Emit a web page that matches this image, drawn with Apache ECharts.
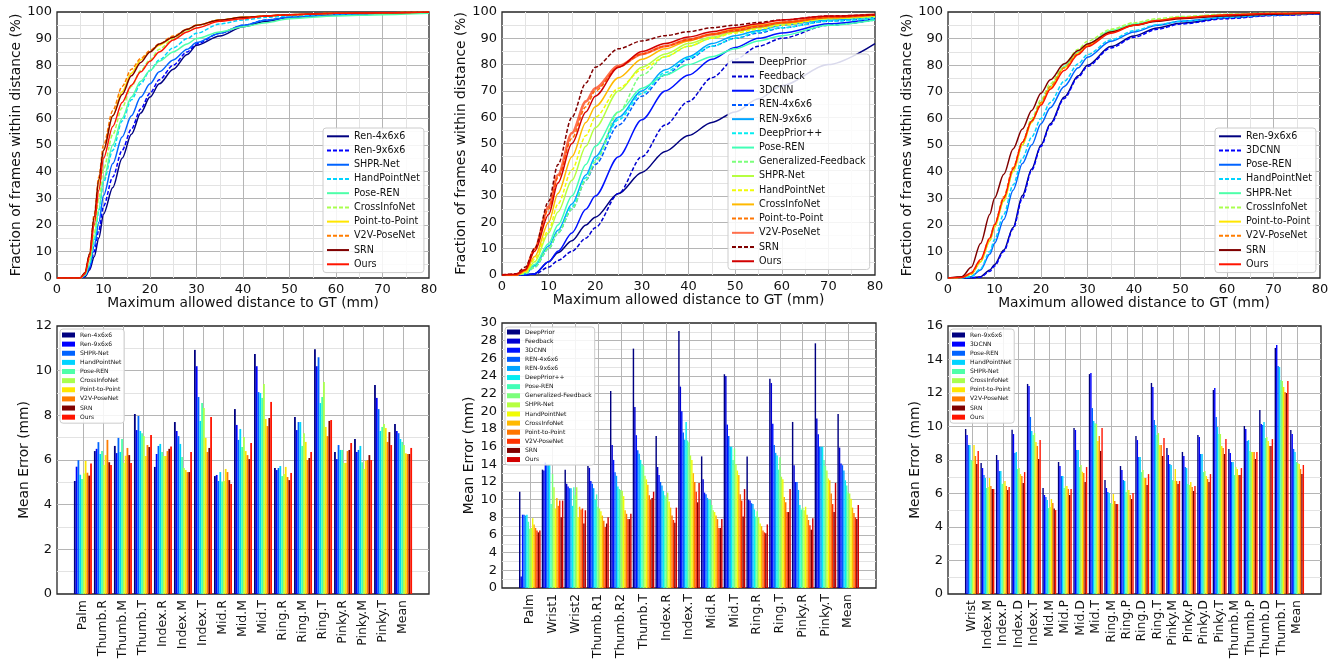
<!DOCTYPE html>
<html><head><meta charset="utf-8">
<script src="https://cdn.jsdelivr.net/npm/echarts@6/dist/echarts.min.js"></script>
<style>html,body{margin:0;padding:0;background:#fff;width:1339px;height:662px;overflow:hidden;position:relative}</style>
</head><body>
<script>
// ================= DATA =================
// --- top-left: cumulative curves ---
const tlNames = ['Ren-4x6x6','Ren-9x6x6','SHPR-Net','HandPointNet','Pose-REN','CrossInfoNet','Point-to-Point','V2V-PoseNet','SRN','Ours'];
const tlX = [0,5,6,7,8,9,10,12,14,16,18,20,22,25,28,30,35,40,45,50,60,70,80];
const tlCurves = [
  [0,0,0.5,3,8,15,24,34,45,54,62,68,73,78.5,84,87.5,91,94.5,96.5,98,99,99.5,100],
  [0,0,0.5,3.5,10,18,27,38,48,56,63.5,69.5,74.5,80,85,88,92,95,97,98,99,99.5,100],
  [0,0,1,4,12,21,31,43,53,61,68,73,77.5,82,86,88.5,92,95,97,98,99,99.5,100],
  [0,0,1,5,14,25,36,48,59,67,73,78,82,86.5,90,92,95.5,97,98,98.5,99.3,99.6,100],
  [0,0,1,5.5,15,26,37,50,60,68,74,78,81.5,85,88,90,92.5,94.5,96,97.5,98.5,99,99.5],
  [0,0,1.5,7,17,30,41,54,64,72,78,82,86,90,93,95,97,98,98.5,99,99.5,99.7,100],
  [0,0,2,8,22,36,48,61,70,77,82,85,87.5,90.5,93.5,95,97,98,98.5,99,99.5,99.7,100],
  [0,0,2,9,24,38,50,63,72,78.5,82.5,85.5,88,91,93.5,95,97,98,98.5,99,99.5,99.7,100],
  [0,0,2,9,23,37,48,61,69,76,81,85,88,90.5,93.5,95,97,98,98.5,99,99.5,99.7,100],
  [0,0,1.5,8,20,33,45,57,66,72.5,77.5,81.5,85,89.5,92.5,94,96.5,97.5,98.5,99,99.5,99.7,100]
];
// --- top-middle ---
const tmNames = ['DeepPrior','Feedback','3DCNN','REN-4x6x6','REN-9x6x6','DeepPrior++','Pose-REN','Generalized-Feedback','SHPR-Net','HandPointNet','CrossInfoNet','Point-to-Point','V2V-PoseNet','SRN','Ours'];
const tmX = [0,3,5,7,10,12,15,18,20,25,30,35,40,45,50,55,60,70,80];
const tmCurves = [
  [0,0,0,0.5,5,8.5,13,19,22,31,39,47,53,58,62,67,72,80,88],
  [0,0,0,0.3,3,5.5,9,14,18,31,45,57,66,75,82,87,90,95,97],
  [0,0,0,0.5,5,9,16,25,30,45,59,70,76,82,86.5,90,92,95.5,97.5],
  [0,0,0.5,3,10,16,25,36,42,57,68,76,82,87,90,92,94,96.5,98],
  [0,0,0.5,3.5,11,17,27,38,45,60,70,78,83,88,91,93,95,97,98],
  [0,0,0.5,3,10,16,26,37,44,59,69,77,82.5,87,90,92.5,94,96.5,97.5],
  [0,0,1,4,12,19,30,42,49,62,71,76,80,83,86,89,91,95,97],
  [0,0,0.5,3,10,16,25,36,43,62,76,83,87,90,92.5,94,95.5,97.5,98],
  [0,0,1,5,16,24,36,49,56,70,79,84,88,90.5,92.5,94,95.5,97.5,98.5],
  [0,0,1,6,17,27,40,53,60,71,78,83,87,90,92,93.5,95,97.5,98.5],
  [0,0,1.5,7,20,31,45,58,64,75,82,86,89,91.5,93.5,95,96,98,99],
  [0,0,2,10,25,37,52,64,70,79,84,87,89.5,91.5,93,94.5,96,98,99],
  [0,0,2,10,26,38,54,66,71,79.5,84,87,89.5,91.5,93,94.5,96,98,99],
  [0,0.5,3,10,28,42,60,73,79,86,89,91,92.5,94,95,96,97,98.5,99],
  [0,0.3,2,9,23,35,50,62,68,79,85,88,90.5,92.5,94,95.5,97,98.5,99]
];
// --- top-right ---
const trNames = ['Ren-9x6x6','3DCNN','Pose-REN','HandPointNet','SHPR-Net','CrossInfoNet','Point-to-Point','V2V-PoseNet','SRN','Ours'];
const trX = [0,3,5,7,9,10,12,14,16,18,20,22,25,28,30,35,40,45,50,60,70,80];
const trCurves = [
  [0,0,0,0.5,3,5,10.5,19,31,41,50,58,68,76,80,87,91,94,95.8,97.8,98.8,99.3],
  [0,0,0,0.3,2.5,4.5,10,18.5,30,40.5,49.5,57.5,67.5,75.5,79.5,86.5,90.5,93.5,95.5,97.5,98.7,99.3],
  [0,0,0.5,3,9,13,22,33,43,50,58,64,72,79,83,89,92.5,95,96.5,98,99,99.5],
  [0,0,0.5,3.5,10,14.5,24,35,45,53,60,66,74,80.5,84,89.5,93,95.2,96.5,98,99,99.5],
  [0,0.2,1.5,6,14,19,29,40,50,59,66,72,79.5,85,88,93,95.5,97,98,99,99.5,99.8],
  [0,0.2,1.5,6.5,15,20,30,41,51,60,67,73,80.5,86,89,93.5,96,97.5,98.3,99.2,99.6,99.8],
  [0,0.2,1.5,6,14,19,29,40,50,58.5,65.5,71.5,79,84.5,87.5,92.5,95,96.8,97.8,98.8,99.3,99.6],
  [0,0.2,1.5,6.5,15,20,30.5,41.5,51,59,66,72,79,84.5,87.5,92.5,95,96.8,97.8,98.8,99.3,99.6],
  [0,0.5,4,13,24,30,39,48.5,56,63,69.5,74.5,80.5,85.5,88,92.5,95,96.5,97.5,98.5,99.2,99.5],
  [0,0.2,2,7,15,20,30,41,51,59,65,71,78,84,87,92,95,96.8,97.8,99,99.5,99.8]
];
// --- bottom-left: mean error per joint (rows = joints, columns = methods in tlNames order) ---
const blCats = ['Palm','Thumb.R','Thumb.M','Thumb.T','Index.R','Index.M','Index.T','Mid.R','Mid.M','Mid.T','Ring.R','Ring.M','Ring.T','Pinky.R','Pinky.M','Pinky.T','Mean'];
const blErr = [
  [5.06,5.7,5.99,5.34,5.15,5.4,5.96,5.43,5.3,5.84],
  [6.4,6.5,6.8,6.27,6.4,5.78,6.22,6.9,5.9,5.78],
  [6.63,6.31,6.99,6.36,6.94,5.87,6.19,6.54,6.22,5.87],
  [8.06,7.34,7.97,7.3,7.2,7.07,6.18,6.67,6.58,7.12],
  [5.69,6.27,6.63,6.72,6.36,6.18,6.18,6.4,6.5,6.6],
  [7.7,7.3,7.07,6.72,6.13,5.64,5.55,5.46,5.46,6.36],
  [10.93,10.2,8.82,7.75,8.55,8.33,6.99,6.36,6.54,7.93],
  [5.28,5.33,5.06,5.46,5.04,5.06,5.6,5.46,5.1,4.93],
  [8.28,7.57,6.9,7.39,6.58,7.03,6.4,6.22,6.04,6.76],
  [10.75,10.2,9.04,9.0,8.78,9.4,7.84,7.52,7.88,8.6],
  [5.64,5.55,5.64,5.73,5.28,5.37,5.69,5.24,5.1,5.42],
  [7.93,7.34,7.7,7.7,6.63,7.2,6.81,6.0,6.09,6.36],
  [10.96,10.2,10.6,8.55,8.82,9.49,7.48,7.07,7.75,7.79],
  [6.36,6.04,6.67,6.45,6.45,5.87,5.87,6.4,6.45,6.76],
  [6.94,6.36,6.45,6.63,5.9,5.6,5.96,6.0,6.22,6.0],
  [9.36,8.78,8.28,7.3,7.48,7.61,7.43,6.81,7.25,6.67],
  [7.61,7.3,7.2,6.94,6.81,6.67,6.3,6.27,6.27,6.54]
];
// --- bottom-middle (methods in tmNames order) ---
const bmCats = ['Palm','Wrist1','Wrist2','Thumb.R1','Thumb.R2','Thumb.T','Index.R','Index.T','Mid.R','Mid.T','Ring.R','Ring.T','Pinky.R','Pinky.T','Mean'];
const bmErr = [
  [10.9,1.3,8.3,8.3,8.2,8.3,7.5,6.7,6.8,7.9,7.2,6.8,6.5,6.3,6.5],
  [13.4,13.3,14.2,14.0,14.0,14.0,9.5,12.9,11.4,9.0,10.2,9.3,9.9,8.0,9.9],
  [13.4,11.8,11.5,11.3,11.3,9.3,11.4,10.5,11.4,8.0,9.2,8.9,9.0,7.3,8.8],
  [13.8,13.6,12.1,11.8,11.3,10.0,10.6,9.2,9.0,8.7,8.2,7.6,6.9,7.3,8.0],
  [22.3,16.2,14.5,13.1,12.7,11.5,11.2,11.1,11.0,10.4,8.8,8.4,7.8,7.8,8.4],
  [27.1,20.5,17.3,15.6,15.2,14.5,14.0,13.8,12.7,12.3,11.7,10.5,10.0,10.2,10.9],
  [17.2,13.7,12.8,12.0,11.6,11.0,10.5,10.3,10.8,9.8,9.1,8.2,7.7,7.4,9.1],
  [29.1,22.8,20.0,17.6,16.8,18.8,16.7,16.5,15.0,14.5,13.0,12.0,10.9,9.7,11.9],
  [14.9,12.3,10.8,10.6,10.2,10.0,10.0,9.4,8.8,8.6,8.2,7.8,6.8,6.8,7.8],
  [24.2,24.0,18.5,17.2,16.0,16.0,14.5,15.8,14.0,13.3,12.8,10.6,9.9,8.1,11.2],
  [14.9,10.0,9.9,9.6,9.5,8.9,8.1,8.7,8.0,7.3,7.0,6.5,6.3,6.2,7.2],
  [23.7,23.2,18.6,16.2,15.3,15.0,13.4,14.8,12.6,12.3,10.3,9.7,8.6,8.6,11.2],
  [18.8,13.9,12.0,12.0,11.1,9.4,8.9,9.1,8.8,9.2,8.3,7.7,7.1,6.6,7.9],
  [27.7,19.2,17.4,16.0,16.0,16.0,14.5,13.8,13.3,12.4,12.2,10.7,9.5,8.6,11.9],
  [19.7,15.9,14.1,13.9,13.3,12.2,11.6,10.8,10.7,10.1,9.1,8.5,8.0,7.8,9.4]
];
// --- bottom-right (methods in trNames order) ---
const brCats = ['Wrist','Index.M','Index.P','Index.D','Index.T','Mid.M','Mid.P','Mid.D','Mid.T','Ring.M','Ring.P','Ring.D','Ring.T','Pinky.M','Pinky.P','Pinky.D','Pinky.T','Thumb.M','Thumb.P','Thumb.D','Thumb.T','Mean'];
const brErr = [
  [9.85,9.5,8.9,8.9,8.0,7.94,8.9,8.24,7.76,8.54],
  [7.82,7.52,7.1,6.93,6.33,6.39,6.93,6.45,6.27,6.27],
  [8.3,8.0,7.34,7.34,6.57,6.63,6.75,6.45,6.21,6.39],
  [9.8,9.55,8.42,8.48,7.46,7.52,7.16,7.04,6.63,7.28],
  [12.54,12.42,10.57,9.73,9.49,9.61,9.07,8.84,8.06,9.19],
  [6.33,5.91,5.79,5.61,5.13,5.2,5.67,5.43,5.11,5.01],
  [7.88,7.64,7.04,7.04,6.33,6.45,6.45,6.27,5.91,6.27],
  [9.91,9.79,8.6,8.6,7.58,7.7,7.3,7.22,6.69,7.58],
  [13.13,13.19,11.1,10.33,10.2,10.15,9.13,9.43,8.54,9.91],
  [6.8,6.33,6.09,6.03,5.43,5.37,5.97,5.55,5.37,5.37],
  [7.64,7.4,6.8,6.75,6.09,6.21,6.21,5.91,5.67,6.03],
  [9.43,9.19,8.18,8.18,7.28,7.4,6.93,6.93,6.51,7.16],
  [12.6,12.36,10.39,10.09,9.49,9.61,8.9,8.9,8.24,9.31],
  [8.72,8.3,7.76,7.7,6.8,6.75,7.46,6.75,6.57,6.75],
  [8.48,8.24,7.58,7.52,6.57,6.51,6.69,6.39,6.15,6.45],
  [9.49,9.37,8.36,8.36,7.28,7.34,7.04,6.87,6.69,7.16],
  [12.18,12.3,10.57,9.97,9.55,9.55,8.84,8.72,8.36,9.25],
  [8.66,8.42,7.88,7.88,7.1,7.58,7.46,7.1,7.1,7.52],
  [10.03,9.85,9.13,9.19,8.54,8.48,8.48,8.48,8.06,8.48],
  [10.99,10.15,10.09,10.27,9.31,9.37,9.13,8.84,8.84,9.25],
  [14.69,14.87,13.61,13.55,12.78,12.72,12.36,12.06,12.0,12.72],
  [9.79,9.55,8.66,8.48,7.88,7.82,7.76,7.46,7.16,7.7]
];

// ================= STYLE =================
const F = 'DejaVu Sans';
const TXT = '#111';
function jet(t){
  function f(p){for(let i=0;i<p.length-1;i++){if(t<=p[i+1][0]){return p[i][1]+(p[i+1][1]-p[i][1])*(t-p[i][0])/(p[i+1][0]-p[i][0]);}}return p[p.length-1][1];}
  const r=f([[0,0],[0.35,0],[0.66,1],[0.89,1],[1,0.5]]);
  const g=f([[0,0],[0.125,0],[0.375,1],[0.64,1],[0.91,0],[1,0]]);
  const b=f([[0,0.5],[0.11,1],[0.34,1],[0.65,0],[1,0]]);
  return 'rgb('+Math.round(r*255)+','+Math.round(g*255)+','+Math.round(b*255)+')';
}
function palette(k){ // last two swapped: SRN darkest red, Ours next
  const c=[]; for(let i=0;i<k;i++) c.push(jet(i/(k-1)));
  const t=c[k-1]; c[k-1]=c[k-2]; c[k-2]=t; return c;
}
const pal10 = palette(10), pal15 = palette(15);
const dash10 = [0,1,0,1,0,1,0,1,0,0];
const dash15 = [0,1,0,1,0,1,0,1,0,1,0,1,0,1,0];

function legendBox(left, top, itemW, itemH, lineH, gap, fs, pad, icon){
  const o = {orient:'vertical', left:left, top:top, itemWidth:itemW, itemHeight:itemH, itemGap:gap,
    padding:pad, backgroundColor:'rgba(255,255,255,0.85)', borderColor:'#cccccc', borderWidth:1, borderRadius:3,
    textStyle:{fontFamily:F, fontSize:fs, color:TXT, lineHeight:lineH}, selectedMode:false, z:10};
  if (icon) o.icon = icon; else o.itemStyle = {opacity:0};
  return o;
}
function axisCommon(){
  return {axisLine:{show:false}, axisTick:{show:false},
    axisLabel:{fontFamily:F, fontSize:13, color:TXT, margin:5},
    splitLine:{show:true, showMinLine:false, showMaxLine:false, lineStyle:{color:'#b5b5b5', width:1}},
    minorTick:{show:false, splitNumber:2},
    minorSplitLine:{show:true, lineStyle:{color:'#e3e3e3', width:1}},
    nameLocation:'middle', nameTextStyle:{fontFamily:F, fontSize:13.8, color:TXT}};
}
function curveOption(g, names, X, Ys, colors, dashes, leg, xGap, specialWidth){
  const xa = Object.assign(axisCommon(), {type:'value', min:0, max:80, interval:10, name:'Maximum allowed distance to GT (mm)', nameGap:xGap});
  const ya = Object.assign(axisCommon(), {type:'value', min:0, max:100, interval:10, name:'Fraction of frames within distance (%)', nameGap:33});
  return {
    animation:false,
    grid:{left:g[0], top:g[1], width:g[2], height:g[3], show:true, borderColor:'#262626', borderWidth:1.3, backgroundColor:'transparent'},
    xAxis:xa, yAxis:ya, legend:leg,
    series: names.map((n,i)=>({
      type:'line', name:n, data:X.map((x,j)=>[x, Ys[i][j]]), showSymbol:false, symbol:'none',
      smooth:0.3, smoothMonotone:'x', clip:true, z:2+i,
      lineStyle:{color:colors[i], width:(specialWidth && specialWidth[i]) ? specialWidth[i] : 1.5,
        type: dashes[i] ? [4,2] : 'solid', opacity:(specialWidth && specialWidth[i]) ? 0.7 : 1},
      itemStyle:{color:colors[i]}, emphasis:{disabled:true}
    }))
  };
}
function barOption(g, cats, names, rows, colors, ymax, leg, gw, yGap){
  const n = cats.length, k = names.length;
  const m = (n - 1 + gw) * 0.05 + gw / 2;
  const idx = cats.map((_, i) => i);
  const xa = Object.assign(axisCommon(), {type:'value', min:-m, max:n-1+m});
  xa.axisTick = {show:false, customValues:idx};
  xa.axisLabel = {customValues:idx, formatter:v => cats[Math.round(v)], rotate:90, margin:6, fontFamily:F, fontSize:12.5, color:TXT};
  xa.minorSplitLine = {show:false};
  xa.splitLine = {show:true, lineStyle:{color:'#b5b5b5', width:1}};
  const ya = Object.assign(axisCommon(), {type:'value', min:0, max:ymax, interval:2, name:'Mean Error (mm)', nameGap:yGap});
  return {
    animation:false,
    grid:{left:g[0], top:g[1], width:g[2], height:g[3], show:true, borderColor:'#262626', borderWidth:1.3, backgroundColor:'transparent'},
    xAxis:xa, yAxis:ya, legend:leg,
    series: names.map((nm,si)=>({
      type:'bar', name:nm, data:rows.map((r,ci)=>[ci, r[si]]),
      barWidth:(gw/k*100)+'%', barGap:'0%', itemStyle:{color:colors[si]}, emphasis:{disabled:true}
    }))
  };
}
function mk(opt){
  const d=document.createElement('div');
  d.style.cssText='position:absolute;left:0;top:0;width:1339px;height:662px';
  document.body.appendChild(d);
  echarts.init(d, null, {renderer:'canvas'}).setOption(opt);
}

// ---- top row ----
mk(curveOption([57,12,372,266], tlNames, tlX, tlCurves, pal10, dash10,
  legendBox(323,128,22,10,10,4.22,9.6,[3.3,4,3.3,3]), 14));
const v2vW = tmNames.map(n => n==='V2V-PoseNet' ? 2.6 : 0);
mk(curveOption([502,12,373,263], tmNames, tmX, tmCurves, pal15, dash15,
  legendBox(728,54,22,10,10,4.21,9.6,[3.3,4,3.3,3]), 17, v2vW));
mk(curveOption([948,12,372,266], trNames, trX, trCurves, pal10, dash10,
  legendBox(1215,128,22,10,10,4.22,9.6,[3.3,4,3.3,3]), 14));

// ---- bottom row ----
mk(barOption([57,326,372,268], blCats, tlNames, blErr, pal10, 12,
  legendBox(60,329,13,5,7,2.13,6,[2.5,3,2.5,2],'rect'), 0.9, 23));
mk(barOption([502,323,374,265], bmCats, tmNames, bmErr, pal15, 30,
  legendBox(505,327,13,5,7,2.11,6,[1.5,3,2,2],'rect'), 0.95, 22));
mk(barOption([948,326,373,268], brCats, trNames, brErr, pal10, 16,
  legendBox(950,329,13,5,7,2.13,6,[2.5,3,2.5,2],'rect'), 0.9, 24));
</script>
</body></html>
